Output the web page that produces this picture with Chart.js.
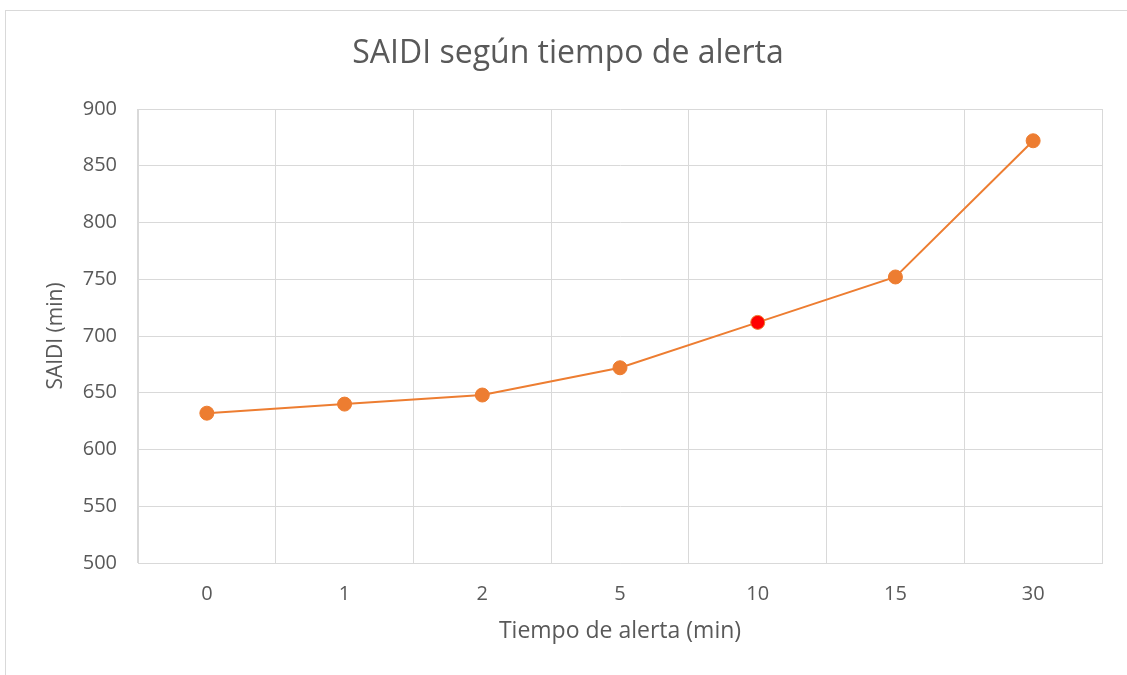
<!DOCTYPE html>
<html>
<head>
<meta charset="utf-8">
<script src="https://cdn.jsdelivr.net/npm/chart.js@4.4.1/dist/chart.umd.min.js"></script>
<style>
  html, body { margin: 0; padding: 0; background: #ffffff; }
  #frame { position: absolute; left: 5px; top: 10px; width: 1200px; height: 800px;
           border-left: 1px solid #d9d9d9; border-top: 1px solid #d9d9d9; }
  #wrap { position: absolute; left: 0; top: 0; width: 1127px; height: 675px; }
</style>
</head>
<body>
<div id="frame"></div>
<div id="wrap"><canvas id="c" width="1127" height="675"></canvas></div>
<script>
const categories = ['0', '1', '2', '5', '10', '15', '30'];
const saidiValues = [632, 640, 648, 672, 712, 752, 872];
const highlightedCategory = '10';
const chartTitle = 'SAIDI según tiempo de alerta';
const xTitle = 'Tiempo de alerta (min)';
const yTitle = 'SAIDI (min)';

const ORANGE = '#ED7D31';
const TEXT = '#595959';
const GRID = '#d9d9d9';
const FONT = "'Open Sans', sans-serif";

new Chart(document.getElementById('c'), {
  type: 'line',
  data: {
    labels: categories,
    datasets: [{
      data: saidiValues,
      borderColor: ORANGE,
      borderWidth: 2,
      pointRadius: 7,
      pointHoverRadius: 7,
      pointBorderWidth: 1,
      pointBorderColor: ORANGE,
      pointBackgroundColor: ctx => categories[ctx.dataIndex] === highlightedCategory ? '#FF0000' : ORANGE,
      tension: 0
    }]
  },
  options: {
    responsive: false,
    animation: false,
    layout: { padding: { left: 34, right: 25, top: 0, bottom: 0 } },
    plugins: {
      legend: { display: false },
      tooltip: { enabled: false },
      title: {
        display: true,
        text: chartTitle,
        color: TEXT,
        font: { family: FONT, size: 32, weight: 'normal', lineHeight: 1.2 },
        padding: { top: 35, bottom: 35.6 }
      }
    },
    scales: {
      x: {
        offset: true,
        grid: { offset: true, color: GRID, lineWidth: 1, drawTicks: false },
        border: { display: true, color: GRID },
        ticks: { color: TEXT, font: { family: FONT, size: 20 }, padding: 19 },
        title: { display: true, text: xTitle, color: TEXT,
                 font: { family: FONT, size: 23 }, padding: { top: 0, bottom: 30 } },
        afterFit: s => { s.height = 112; }
      },
      y: {
        min: 500, max: 900,
        ticks: { stepSize: 50, color: TEXT, font: { family: FONT, size: 20 }, padding: 21 },
        grid: { color: GRID, lineWidth: 1, drawTicks: false },
        border: { display: true, color: GRID },
        title: { display: true, text: yTitle, color: TEXT,
                 font: { family: FONT, size: 21 }, padding: { top: 9, bottom: 0 } },
        afterFit: s => { s.width = 104; }
      }
    }
  }
});
</script>
</body>
</html>
